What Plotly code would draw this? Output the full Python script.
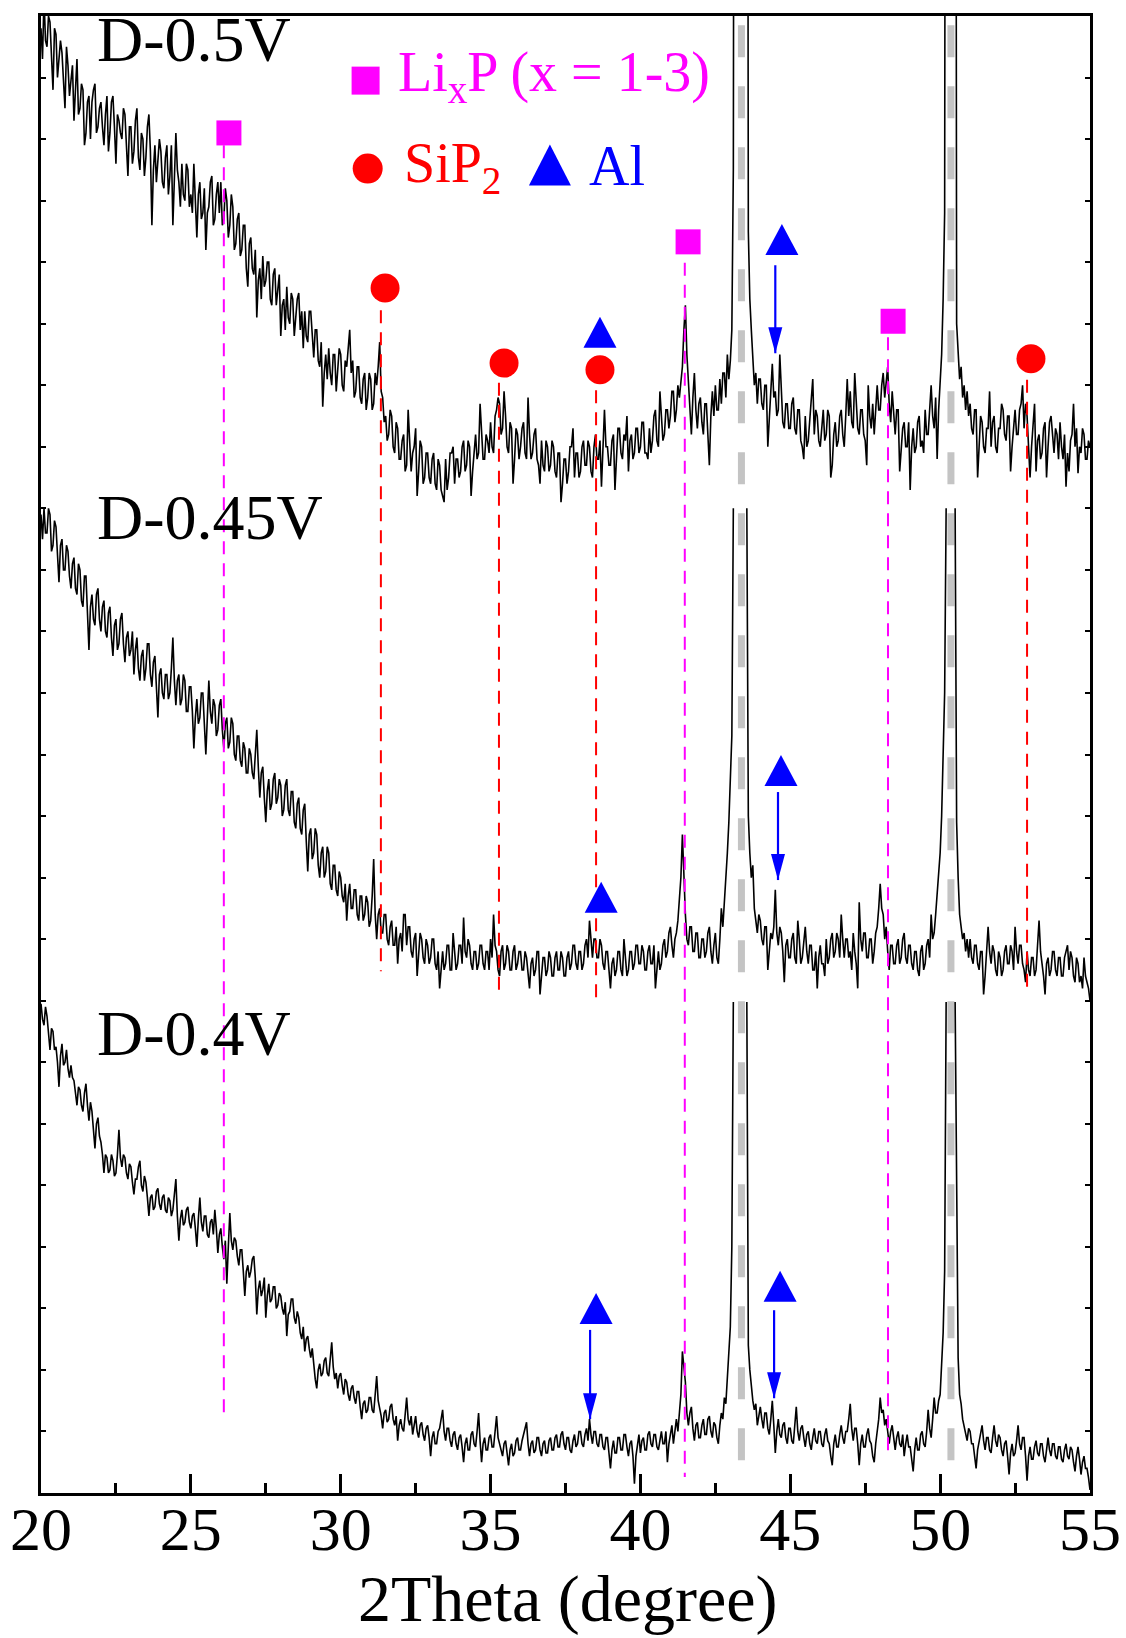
import plotly.graph_objects as go

# ---------------- data ----------------
# XRD scans, 2theta from 20.00 to 55.00 deg in 0.05 deg steps (stacked, arbitrary units)
scan_start = 20.0
scan_step = 0.05

d_05V = [
    23.8, 23.3, 24.3, 23.6, 23.5, 24.0, 23.9, 23.2, 22.8, 23.8, 23.7, 23.0, 23.3, 23.6, 23.4, 22.9, 22.5, 23.5, 23.2, 22.7,
    22.9, 23.2, 22.3, 22.7, 23.3, 22.4, 22.5, 22.9, 22.8, 21.9, 22.1, 22.6, 22.7, 22.0, 22.6, 22.8, 22.9, 22.1, 22.2, 22.5,
    22.6, 22.2, 21.9, 22.4, 22.7, 21.8, 22.1, 22.6, 22.7, 22.2, 21.6, 22.4, 22.3, 22.1, 22.0, 22.5, 22.4, 21.9, 21.4, 22.2,
    22.2, 21.6, 21.8, 22.3, 22.5, 21.7, 21.5, 22.1, 22.0, 21.4, 21.7, 22.2, 22.4, 21.8, 20.6, 21.5, 21.9, 21.3, 21.6, 22.0,
    21.8, 21.3, 21.2, 21.7, 21.9, 21.1, 21.4, 21.9, 20.6, 21.2, 22.1, 21.5, 21.3, 20.9, 21.6, 21.1, 21.0, 21.6, 21.5, 20.9,
    21.1, 20.8, 21.6, 21.0, 20.4, 21.1, 21.3, 20.7, 20.8, 21.2, 20.2, 20.8, 20.9, 21.3, 21.4, 20.6, 20.7, 21.1, 21.3, 20.8,
    21.3, 20.6, 20.7, 21.2, 21.0, 20.4, 20.6, 21.1, 20.9, 20.2, 20.3, 20.7, 20.8, 20.1, 20.2, 20.6, 20.6, 19.9, 19.6, 20.3,
    20.4, 19.9, 19.8, 20.2, 19.1, 19.7, 19.9, 19.4, 20.1, 19.6, 19.7, 20.0, 20.0, 19.4, 19.3, 19.8, 19.9, 19.3, 19.5, 19.8,
    18.8, 19.3, 19.4, 18.9, 19.6, 19.1, 19.0, 19.5, 19.4, 18.8, 19.1, 19.4, 19.5, 18.9, 19.2, 18.6, 19.2, 18.8, 18.7, 19.2,
    19.2, 18.7, 18.45, 18.9, 18.9, 18.4, 18.3, 18.7, 17.65, 18.2, 18.5, 18.1, 18.6, 18.2, 18.0, 18.5, 18.5, 17.9, 18.2, 18.6,
    18.5, 18.0, 17.9, 18.4, 18.3, 18.6, 18.9, 18.2, 18.4, 17.8, 17.9, 18.3, 18.3, 17.8, 17.7, 18.1, 18.2, 17.6, 17.8, 18.2,
    18.1, 17.6, 17.7, 18.2, 18.0, 18.3, 18.7, 17.9, 17.8, 17.4, 17.5, 17.1, 17.2, 17.6, 17.5, 17.0, 16.9, 17.4, 17.3, 16.8,
    16.8, 17.1, 17.2, 16.6, 16.7, 17.6, 17.1, 16.6, 16.9, 17.0, 17.3, 16.2, 16.6, 17.1, 17.0, 16.4, 16.5, 16.9, 16.9, 16.5,
    16.4, 16.8, 16.9, 16.4, 16.3, 16.8, 16.7, 16.3, 16.2, 16.1, 16.8, 16.3, 16.5, 16.9, 16.9, 17.0, 16.4, 16.8, 16.8, 16.5,
    16.6, 17.0, 17.1, 16.6, 16.7, 17.1, 17.0, 16.2, 16.6, 17.0, 17.2, 16.8, 16.9, 17.7, 17.3, 16.8, 16.8, 17.2, 17.1, 16.9,
    17.4, 17.0, 16.9, 17.5, 17.6, 17.8, 17.7, 17.2, 17.3, 17.9, 17.5, 17.0, 16.9, 17.4, 17.3, 16.4, 16.8, 17.3, 17.2, 16.8,
    17.0, 17.3, 17.4, 16.9, 16.8, 17.8, 17.2, 16.8, 16.9, 17.2, 17.3, 16.8, 16.7, 16.4, 17.1, 16.7, 16.6, 17.1, 17.0, 16.6,
    16.7, 17.1, 17.0, 16.6, 16.5, 16.9, 16.9, 16.1, 16.4, 16.8, 16.8, 16.4, 16.6, 17.0, 17.0, 17.3, 16.5, 16.9, 16.9, 16.5,
    16.6, 17.0, 17.1, 16.7, 16.7, 17.1, 17.0, 16.6, 16.5, 17.0, 17.2, 16.8, 16.8, 17.1, 16.35, 16.9, 17.6, 17.0, 17.0, 16.7,
    16.7, 17.1, 17.2, 16.3, 16.9, 17.3, 17.3, 16.9, 16.8, 17.2, 17.1, 17.5, 16.6, 17.1, 17.2, 16.8, 16.9, 17.3, 17.3, 16.9,
    17.0, 17.4, 17.4, 16.9, 16.9, 16.8, 17.3, 16.9, 17.1, 17.5, 17.6, 17.1, 17.0, 17.9, 17.5, 17.1, 17.2, 17.6, 17.6, 17.3,
    17.5, 17.9, 17.9, 17.4, 17.6, 18.0, 17.8, 18.1, 18.3, 18.9, 19.3, 18.5, 18.0, 17.6, 17.2, 17.8, 18.2, 17.6, 17.3, 17.7,
    17.8, 17.4, 17.2, 17.7, 17.7, 17.2, 16.7, 17.5, 17.9, 17.5, 18.0, 17.6, 17.6, 18.1, 17.7, 18.2, 18.2, 17.8, 18.5, 18.1,
    18.4, 18.9, 21.5, 40.0, 40.0, 40.0, 40.0, 40.0, 40.0, 40.0, 40.0, 40.0, 20.5, 19.4, 18.9, 18.3, 18.0, 18.2, 17.7, 18.1,
    18.1, 17.7, 17.6, 18.0, 18.0, 17.0, 17.5, 17.9, 18.35, 17.8, 17.9, 17.5, 17.6, 18.5, 17.9, 17.4, 17.3, 17.7, 17.7, 17.3,
    17.3, 17.7, 17.8, 17.3, 17.2, 17.6, 17.6, 17.1, 17.0, 16.8, 17.5, 17.0, 17.1, 17.5, 17.7, 18.1, 17.2, 17.6, 17.5, 17.1,
    17.0, 17.4, 17.6, 17.1, 17.2, 17.6, 17.5, 16.5, 16.7, 17.2, 17.4, 17.0, 17.1, 17.5, 17.6, 17.2, 17.0, 17.5, 18.1, 17.5,
    17.9, 17.4, 17.3, 18.2, 17.8, 17.3, 17.2, 17.6, 17.6, 17.2, 17.1, 16.7, 18.0, 17.5, 17.3, 17.7, 17.2, 17.6, 18.0, 17.6,
    17.6, 18.0, 18.2, 17.8, 18.0, 18.3, 17.7, 17.4, 17.9, 17.5, 17.2, 17.6, 17.6, 16.6, 16.9, 17.3, 17.4, 17.0, 17.0, 17.4,
    16.3, 17.0, 17.3, 16.9, 17.0, 17.4, 17.5, 17.0, 17.1, 16.9, 17.6, 17.2, 17.2, 17.7, 18.0, 17.5, 17.3, 17.8, 16.8, 17.6,
    18.0, 18.5, 19.4, 20.8, 40.0, 40.0, 40.0, 40.0, 40.0, 40.0, 40.0, 19.0, 18.6, 18.1, 18.3, 17.8, 18.0, 17.6, 17.9, 17.5,
    17.7, 17.3, 17.2, 17.6, 17.6, 16.5, 17.0, 17.5, 17.4, 17.0, 16.9, 17.3, 17.3, 17.9, 17.0, 17.4, 17.5, 17.0, 16.9, 17.3,
    17.3, 17.7, 17.6, 17.2, 17.1, 17.5, 17.5, 16.6, 17.0, 17.4, 17.6, 17.2, 17.2, 17.6, 17.7, 18.0, 17.3, 17.7, 17.5, 17.0,
    16.5, 17.0, 17.3, 17.7, 16.6, 17.1, 17.2, 16.8, 16.9, 17.3, 17.4, 16.5, 17.0, 17.4, 17.5, 17.1, 16.9, 17.3, 17.2, 16.8,
    17.4, 17.0, 16.8, 17.2, 16.35, 16.9, 16.6, 17.1, 17.2, 17.7, 17.0, 17.3, 16.57, 17.0, 16.9, 17.3, 17.2, 16.8, 16.8, 17.1,
    17.0,
]

d_045V = [
    15.9, 15.5, 16.0, 15.6, 15.6, 16.0, 15.9, 15.3, 15.4, 15.8, 15.7, 15.2, 14.8, 15.4, 15.5, 15.0, 15.0, 15.4, 15.3, 14.9,
    14.7, 15.1, 15.2, 14.7, 14.6, 15.1, 15.0, 14.5, 14.4, 14.9, 14.9, 14.3, 13.7, 14.4, 14.6, 14.2, 14.1, 14.6, 14.7, 14.2,
    14.0, 14.4, 14.5, 14.0, 13.9, 14.3, 14.4, 13.9, 13.6, 14.1, 14.2, 13.7, 13.8, 14.2, 14.3, 13.8, 13.5, 13.9, 14.0, 13.6,
    13.7, 14.0, 13.3, 13.7, 13.9, 13.4, 13.2, 13.6, 13.7, 13.2, 13.4, 13.8, 13.8, 13.3, 13.1, 13.5, 13.6, 13.1, 12.6, 13.3,
    13.4, 13.0, 12.9, 13.3, 13.3, 12.9, 13.0, 13.4, 13.9, 13.2, 12.8, 13.2, 13.3, 12.8, 12.9, 13.3, 13.2, 12.7, 12.7, 13.1,
    13.1, 12.7, 12.1, 12.6, 12.9, 12.5, 12.6, 13.0, 13.0, 12.5, 12.0, 12.6, 13.2, 12.7, 12.5, 12.9, 12.8, 12.3, 12.4, 12.8,
    12.9, 12.4, 12.1, 12.5, 12.6, 12.1, 12.2, 12.6, 12.5, 12.0, 11.9, 12.3, 12.3, 11.9, 11.8, 12.2, 12.1, 11.7, 11.7, 12.1,
    12.0, 11.7, 11.6, 12.0, 12.4, 11.8, 11.3, 11.7, 11.8, 11.3, 10.9, 11.4, 11.6, 11.1, 11.2, 11.6, 11.7, 11.2, 11.3, 11.6,
    11.5, 11.0, 11.1, 11.5, 11.6, 11.1, 11.0, 11.4, 11.4, 10.9, 10.8, 11.2, 11.3, 10.8, 10.7, 11.1, 11.2, 10.6, 10.1, 10.7,
    10.8, 10.3, 10.4, 10.8, 10.7, 10.2, 10.0, 10.4, 10.5, 10.0, 10.1, 10.5, 10.4, 9.9, 9.8, 10.2, 10.2, 9.8, 9.7, 10.1,
    10.0, 9.7, 9.6, 9.9, 9.3, 9.7, 9.9, 9.5, 9.5, 9.8, 9.8, 9.4, 9.3, 9.7, 9.7, 9.3, 9.4, 9.7, 9.6, 9.2,
    9.3, 9.7, 10.3, 9.4, 9.0, 9.4, 9.5, 9.1, 9.1, 9.4, 9.4, 9.0, 8.9, 9.2, 9.3, 8.9, 8.9, 9.2, 8.6, 9.0,
    9.1, 8.8, 9.4, 9.4, 8.9, 9.2, 9.2, 8.8, 8.7, 9.0, 9.1, 8.4, 8.8, 9.1, 9.0, 8.7, 8.6, 9.0, 8.9, 8.6,
    8.7, 9.0, 9.0, 8.6, 8.5, 8.8, 8.2, 8.6, 8.8, 8.5, 8.6, 8.9, 8.9, 8.5, 8.5, 9.1, 8.8, 8.5, 8.6, 8.9,
    8.9, 8.6, 9.35, 8.8, 8.7, 9.0, 8.9, 8.6, 8.5, 8.8, 8.8, 8.5, 8.6, 8.9, 8.9, 8.6, 8.5, 8.8, 8.8, 8.5,
    9.0, 8.7, 9.4, 8.9, 8.8, 8.5, 8.4, 8.8, 8.9, 8.5, 8.6, 8.9, 8.8, 8.5, 8.5, 8.8, 8.9, 8.5, 8.6, 8.8,
    8.8, 8.5, 8.5, 8.8, 8.7, 8.4, 8.2, 8.6, 8.7, 8.4, 8.5, 8.8, 8.8, 8.1, 8.4, 8.7, 8.7, 8.4, 8.5, 8.8,
    8.7, 8.4, 8.4, 8.7, 8.8, 8.5, 8.5, 8.8, 8.7, 8.4, 8.4, 8.7, 8.8, 8.5, 8.6, 8.9, 8.9, 8.6, 8.5, 8.8,
    8.8, 8.5, 8.6, 8.9, 9.0, 8.7, 9.3, 8.9, 8.7, 9.0, 9.0, 8.7, 8.7, 9.0, 8.9, 8.6, 8.5, 8.8, 8.8, 8.5,
    8.2, 8.6, 8.7, 8.4, 8.5, 8.8, 8.8, 8.5, 8.4, 9.0, 8.7, 8.4, 8.5, 8.8, 8.8, 8.5, 8.6, 8.9, 8.9, 8.6,
    8.6, 8.9, 8.8, 8.5, 8.5, 8.8, 8.9, 8.6, 8.6, 8.9, 8.2, 8.6, 8.8, 8.5, 8.6, 8.9, 9.0, 8.7, 8.8, 9.1,
    9.2, 8.9, 8.7, 9.0, 9.1, 9.3, 9.6, 10.0, 10.7, 9.9, 9.4, 9.0, 8.9, 9.2, 9.2, 8.8, 8.8, 9.1, 9.1, 8.7,
    8.7, 9.0, 9.0, 8.7, 8.8, 9.1, 9.2, 8.8, 8.6, 8.9, 9.1, 8.7, 8.6, 9.0, 9.5, 9.2, 9.6, 9.9, 10.4, 10.9,
    11.5, 12.3, 16.0, None, None, None, None, None, None, None, None, 16.0, 11.0, 10.4, 10.0, 10.2, 9.5, 9.3, 9.1, 9.4,
    9.3, 9.0, 8.9, 9.2, 9.2, 8.5, 8.8, 9.1, 9.0, 9.2, 9.8, 9.1, 8.9, 9.2, 9.1, 8.8, 8.3, 8.9, 9.0, 8.7,
    8.7, 9.0, 9.1, 8.7, 8.6, 9.3, 9.0, 8.6, 8.7, 9.0, 9.2, 8.8, 8.6, 8.9, 8.9, 8.5, 8.5, 8.8, 8.2, 8.7,
    8.9, 8.6, 8.6, 8.4, 9.0, 8.6, 8.7, 9.0, 9.1, 8.7, 8.8, 9.1, 9.0, 8.7, 9.4, 9.0, 8.7, 9.0, 9.0, 8.7,
    8.8, 8.5, 9.1, 8.8, 8.6, 8.2, 9.6, 9.0, 8.8, 9.1, 9.1, 8.7, 8.7, 9.0, 9.0, 8.6, 8.8, 9.1, 9.2, 9.5,
    9.9, 9.5, 9.4, 9.0, 9.2, 8.8, 8.5, 8.9, 8.9, 8.6, 8.6, 8.9, 9.0, 8.6, 8.7, 9.0, 9.1, 8.7, 8.6, 8.9,
    8.9, 8.6, 8.5, 8.8, 8.8, 8.5, 8.4, 8.8, 8.9, 8.5, 8.6, 8.9, 9.0, 8.7, 9.4, 9.0, 9.1, 9.4, 9.7, 10.0,
    10.4, 11.0, 11.8, 13.0, 16.0, None, None, None, None, None, 16.0, 10.9, 10.0, 9.4, 9.2, 9.0, 9.1, 8.8, 9.0, 8.7,
    9.0, 8.7, 8.6, 8.9, 8.9, 8.6, 8.5, 8.8, 8.8, 8.1, 8.4, 8.8, 9.2, 8.8, 8.6, 8.9, 8.8, 8.5, 8.4, 8.8,
    8.7, 8.4, 8.5, 8.8, 8.9, 8.6, 8.6, 8.9, 8.8, 8.5, 9.2, 8.8, 8.6, 8.9, 8.9, 8.6, 8.5, 8.3, 8.8, 8.5,
    8.4, 8.7, 8.7, 8.4, 8.5, 8.9, 9.3, 8.8, 8.6, 8.4, 8.1, 8.6, 8.7, 8.4, 8.5, 8.8, 8.8, 8.5, 8.4, 8.7,
    8.7, 8.4, 8.4, 8.7, 8.8, 8.9, 8.5, 8.8, 8.7, 8.4, 8.3, 8.7, 8.6, 8.3, 8.4, 8.2, 8.7, 8.4, 8.3, 8.2,
    8.0,
]

d_04V = [
    7.95, 7.7, 7.6, 7.9, 7.75, 7.4, 7.2, 7.55, 7.5, 7.2, 7.25, 7.0, 6.6, 7.1, 7.3, 6.95, 7.0, 7.2, 6.9, 6.75,
    6.95, 6.75, 6.7, 6.5, 6.3, 6.6, 6.55, 6.3, 6.2, 6.5, 6.65, 6.3, 6.05, 6.35, 6.2, 5.9, 5.6, 6.0, 6.1, 5.8,
    5.7, 5.5, 5.2, 5.5, 5.45, 5.2, 5.25, 5.5, 5.4, 5.15, 5.2, 5.5, 5.9, 5.45, 5.3, 5.5, 5.45, 5.2, 5.1, 5.35,
    5.3, 5.05, 4.85, 5.1, 5.1, 5.3, 5.4, 5.0, 4.9, 5.15, 5.05, 4.8, 4.5, 4.8, 4.85, 4.6, 4.65, 4.9, 4.95, 4.7,
    4.6, 4.8, 4.85, 4.6, 4.55, 4.8, 4.75, 4.5, 4.6, 4.85, 5.1, 4.5, 4.1, 4.45, 4.6, 4.35, 4.4, 4.6, 4.65, 4.4,
    4.3, 4.5, 4.55, 4.3, 4.0, 4.45, 4.8, 4.4, 4.25, 4.5, 4.5, 4.2, 4.15, 4.4, 4.45, 4.2, 4.6, 4.3, 3.9, 4.2,
    4.3, 4.0, 3.8, 4.1, 3.4, 4.0, 4.55, 4.1, 3.95, 4.15, 4.1, 3.85, 3.7, 3.95, 3.95, 3.6, 3.2, 3.6, 3.7, 3.5,
    3.6, 3.8, 3.85, 3.5, 2.9, 3.3, 3.45, 3.2, 3.3, 3.5, 2.85, 3.2, 3.4, 3.1, 3.15, 3.35, 3.35, 3.0, 3.05, 3.25,
    3.2, 3.0, 2.9, 3.1, 2.55, 2.9, 2.95, 3.15, 3.15, 2.85, 2.75, 2.95, 2.85, 2.6, 2.5, 2.7, 2.3, 2.5, 2.55, 2.35,
    2.2, 2.35, 2.05, 1.85, 1.7, 2.0, 2.1, 1.9, 1.95, 2.15, 2.2, 1.95, 1.9, 2.2, 2.45, 2.05, 1.85, 1.95, 1.7, 1.9,
    1.95, 1.75, 1.6, 1.85, 1.8, 1.6, 1.5, 1.7, 1.75, 1.55, 1.45, 1.65, 1.65, 1.4, 1.2, 1.45, 1.5, 1.3, 1.35, 1.55,
    1.55, 1.35, 1.3, 1.6, 1.9, 1.5, 1.4, 1.25, 1.05, 1.3, 1.35, 1.15, 1.2, 1.4, 1.45, 1.2, 1.1, 1.25, 0.85, 1.1,
    1.2, 1.05, 1.0, 1.25, 1.55, 1.2, 1.1, 1.25, 0.95, 1.1, 1.25, 1.0, 0.9, 1.1, 1.15, 0.95, 0.85, 1.05, 1.1, 0.9,
    0.6, 0.9, 1.0, 0.8, 0.8, 1.0, 1.05, 1.2, 1.35, 1.0, 0.85, 1.05, 1.05, 0.85, 0.75, 0.95, 1.0, 0.8, 0.7, 0.9,
    0.95, 0.75, 0.5, 0.8, 0.9, 0.7, 0.7, 0.95, 1.0, 0.8, 0.75, 1.0, 1.3, 0.85, 0.5, 0.8, 0.9, 0.7, 0.7, 0.9,
    0.95, 0.75, 0.75, 1.0, 1.25, 0.9, 0.8, 0.65, 0.6, 0.8, 0.85, 0.65, 0.45, 0.7, 0.8, 0.6, 0.65, 0.85, 0.9, 0.7,
    0.7, 0.85, 0.95, 1.05, 1.15, 0.8, 0.6, 0.8, 0.85, 0.65, 0.7, 0.9, 0.9, 0.7, 0.6, 0.8, 0.85, 0.65, 0.65, 0.85,
    0.9, 0.7, 0.7, 0.9, 0.95, 0.75, 0.75, 0.95, 1.0, 0.8, 0.7, 0.9, 0.9, 0.7, 0.65, 0.85, 0.95, 0.75, 0.8, 1.0,
    1.0, 0.8, 0.75, 0.95, 1.05, 0.85, 1.2, 0.95, 0.8, 1.0, 1.0, 0.8, 0.75, 0.95, 0.95, 0.75, 0.7, 0.9, 0.9, 0.65,
    0.4, 0.7, 0.85, 0.65, 0.65, 0.9, 0.9, 0.7, 0.7, 0.95, 0.95, 0.75, 0.6, 0.8, 0.85, 0.6, 0.15, 0.6, 0.8, 0.95,
    0.65, 0.85, 0.9, 0.7, 0.7, 0.95, 1.0, 0.8, 0.75, 0.95, 0.95, 0.75, 0.7, 0.9, 1.0, 0.8, 0.8, 1.0, 0.5, 0.8,
    0.95, 1.1, 0.8, 1.0, 1.2, 1.0, 1.25, 1.6, 2.3, 2.0, 1.8, 1.3, 1.1, 1.3, 1.4, 1.05, 0.85, 1.1, 1.15, 0.9,
    0.9, 1.1, 1.2, 0.95, 0.95, 1.2, 1.25, 1.0, 0.9, 1.15, 1.1, 0.9, 0.8, 1.1, 1.3, 1.2, 1.55, 1.45, 1.95, 2.2,
    2.7, 4.0, 7.98, None, None, None, None, None, None, None, None, 7.98, 2.4, 2.0, 1.7, 1.5, 1.35, 1.45, 1.1, 1.3,
    1.4, 1.2, 1.05, 1.3, 1.3, 1.05, 0.95, 1.2, 1.5, 1.1, 0.65, 1.0, 1.2, 0.95, 0.9, 1.1, 1.15, 0.9, 0.8, 1.05,
    1.05, 0.85, 0.8, 1.1, 1.4, 1.0, 0.85, 1.05, 1.1, 0.9, 0.75, 0.95, 1.0, 0.8, 0.7, 0.9, 1.05, 0.85, 0.8, 1.0,
    1.0, 0.8, 0.75, 0.95, 1.05, 0.85, 0.8, 0.6, 0.45, 0.8, 0.95, 0.75, 0.75, 0.95, 1.1, 0.9, 0.8, 1.0, 1.0, 1.2,
    1.45, 1.05, 0.85, 1.05, 1.05, 0.8, 0.45, 0.8, 0.95, 0.75, 0.75, 0.95, 1.05, 0.85, 0.8, 0.6, 0.5, 0.8, 1.0, 1.2,
    1.55, 1.3, 1.35, 1.1, 1.2, 0.95, 0.8, 1.0, 1.1, 0.9, 0.7, 0.9, 1.0, 0.8, 0.75, 0.95, 0.6, 0.8, 0.95, 0.75,
    0.75, 0.55, 0.35, 0.7, 0.9, 0.7, 0.7, 0.95, 1.0, 0.8, 0.75, 1.0, 1.35, 1.05, 0.9, 1.2, 1.55, 1.3, 1.3, 1.5,
    1.6, 2.1, 2.6, 3.6, 7.98, None, None, None, None, None, 7.98, 4.2, 2.2, 1.6, 1.45, 1.2, 1.1, 0.95, 0.85, 1.05,
    1.0, 0.8, 0.8, 0.6, 0.4, 0.7, 0.85, 1.0, 1.1, 0.85, 0.7, 0.9, 0.9, 0.7, 0.65, 0.9, 1.1, 0.85, 0.75, 0.95,
    0.9, 0.7, 0.6, 0.8, 0.85, 0.6, 0.3, 0.65, 0.8, 0.6, 0.65, 0.85, 1.1, 0.8, 0.7, 0.9, 0.9, 0.6, 0.2, 0.6,
    0.75, 0.55, 0.55, 0.75, 0.85, 0.65, 0.6, 0.8, 0.8, 0.6, 0.5, 0.7, 0.9, 0.7, 0.6, 0.8, 0.8, 0.6, 0.55, 0.75,
    0.75, 0.55, 0.5, 0.7, 0.8, 0.6, 0.55, 0.75, 0.7, 0.5, 0.35, 0.6, 0.75, 0.55, 0.3, 0.5, 0.6, 0.4, 0.4, 0.25,
    0.05,
]

sample_names = ["D-0.5V", "D-0.45V", "D-0.4V"]
sample_label_x = [21.8, 21.8, 21.8]
sample_label_y = [23.62, 15.85, 7.47]

# phase markers
lixp_x = [26.27, 41.59, 48.43]
lixp_y = [22.10, 20.33, 19.04]
lixp_line_x = [26.10, 41.48, 48.26]
lixp_line_top = [21.90, 19.99, 18.78]
lixp_line_bottom = [1.30, 0.26, 0.62]

sip2_x = [31.48, 35.45, 38.65, 53.03]
sip2_y = [19.58, 18.36, 18.25, 18.43]
sip2_line_x = [31.34, 35.28, 38.52, 52.90]
sip2_line_top = [19.22, 18.04, 17.92, 18.09]
sip2_line_bottom = [8.48, 8.06, 7.96, 8.14]

al_x = [38.65, 44.72, 38.69, 44.69, 38.52, 44.66]
al_y = [18.86, 20.37, 9.68, 11.74, 3.00, 3.36]
al_arrow_x = [44.50, 44.59, 38.32, 44.46]
al_arrow_top = [19.95, 11.39, 2.65, 2.97]
al_arrow_tip = [18.52, 9.96, 1.20, 1.54]

substrate_x = [43.37, 50.36]
substrate_top = 23.85
substrate_bottom = 0.41

legend_text = ["Li<sub>x</sub>P (x = 1-3)", "SiP<sub>2</sub>", "Al"]
legend_text_x = [31.83, 32.05, 38.22]
legend_text_y = [23.02, 21.55, 21.56]
legend_marker_x = [30.83, 30.90, 36.98]
legend_marker_y = [22.95, 21.52, 21.58]

x_ticks = [20, 25, 30, 35, 40, 45, 50, 55]
x_title = "2Theta (degree)"

# ---------------- styling ----------------
FONT = "Liberation Serif, Times New Roman, serif"
MAGENTA = "#ff00ff"
RED = "#ff0000"
BLUE = "#0000ff"

fig = go.Figure()

shapes = []
for sx in substrate_x:
    shapes.append(dict(type="line", xref="x", yref="y", x0=sx, x1=sx,
                       y0=substrate_top, y1=substrate_bottom, layer="below",
                       line=dict(color="#c4c4c4", width=7, dash="32px,29px")))

for name, ys in zip(sample_names, [d_05V, d_045V, d_04V]):
    fig.add_trace(go.Scatter(x0=scan_start, dx=scan_step, y=ys, mode="lines",
                             name=name, line=dict(color="black", width=1.6),
                             connectgaps=False, showlegend=False,
                             hoverinfo="skip"))

for lx, t, b in zip(lixp_line_x, lixp_line_top, lixp_line_bottom):
    shapes.append(dict(type="line", xref="x", yref="y", x0=lx, x1=lx, y0=t, y1=b,
                       line=dict(color=MAGENTA, width=2, dash="13px,9px")))
for lx, t, b in zip(sip2_line_x, sip2_line_top, sip2_line_bottom):
    shapes.append(dict(type="line", xref="x", yref="y", x0=lx, x1=lx, y0=t, y1=b,
                       line=dict(color=RED, width=2, dash="13px,9px")))

for tx, ty in zip(al_x, al_y):
    shapes.append(dict(type="path", xref="x", yref="y", xsizemode="pixel",
                       ysizemode="pixel", xanchor=tx, yanchor=ty,
                       path="M -16.5,-15.5 L 16.5,-15.5 L 0,15.5 Z",
                       fillcolor=BLUE, line=dict(width=0)))
for axx, at, ap in zip(al_arrow_x, al_arrow_top, al_arrow_tip):
    shapes.append(dict(type="line", xref="x", yref="y", x0=axx, x1=axx,
                       y0=at, y1=ap, line=dict(color=BLUE, width=2.2)))
    shapes.append(dict(type="path", xref="x", yref="y", xsizemode="pixel",
                       ysizemode="pixel", xanchor=axx, yanchor=ap,
                       path="M -7,26 L 7,26 L 0,0 Z",
                       fillcolor=BLUE, line=dict(width=0)))
shapes.append(dict(type="path", xref="x", yref="y", xsizemode="pixel",
                   ysizemode="pixel", xanchor=legend_marker_x[2],
                   yanchor=legend_marker_y[2],
                   path="M -21,-20.5 L 21,-20.5 L 0,20.5 Z",
                   fillcolor=BLUE, line=dict(width=0)))

fig.add_trace(go.Scatter(x=lixp_x, y=lixp_y, mode="markers", showlegend=False,
                         marker=dict(symbol="square", size=25, color=MAGENTA),
                         hoverinfo="skip"))
fig.add_trace(go.Scatter(x=sip2_x, y=sip2_y, mode="markers", showlegend=False,
                         marker=dict(symbol="circle", size=29, color=RED),
                         hoverinfo="skip"))
fig.add_trace(go.Scatter(x=legend_marker_x[:1], y=legend_marker_y[:1], mode="markers",
                         showlegend=False,
                         marker=dict(symbol="square", size=28, color=MAGENTA),
                         hoverinfo="skip"))
fig.add_trace(go.Scatter(x=legend_marker_x[1:2], y=legend_marker_y[1:2], mode="markers",
                         showlegend=False,
                         marker=dict(symbol="circle", size=30, color=RED),
                         hoverinfo="skip"))

annotations = []
for txt, tx, ty in zip(sample_names, sample_label_x, sample_label_y):
    annotations.append(dict(text=txt, x=tx, y=ty, xref="x", yref="y",
                            xanchor="left", yanchor="middle", showarrow=False,
                            font=dict(family=FONT, size=64, color="black")))
for txt, tx, ty, col in zip(legend_text, legend_text_x, legend_text_y,
                            [MAGENTA, RED, BLUE]):
    annotations.append(dict(text=txt, x=tx, y=ty, xref="x", yref="y",
                            xanchor="left", yanchor="middle", showarrow=False,
                            font=dict(family=FONT, size=56, color=col)))
annotations.append(dict(text=x_title, x=0.502, y=-0.0718, xref="paper", yref="paper",
                        xanchor="center", yanchor="middle", showarrow=False,
                        font=dict(family=FONT, size=66, color="black")))

fig.update_layout(
    width=1126, height=1638,
    margin=dict(l=41, r=36, t=16, b=145),
    paper_bgcolor="white", plot_bgcolor="white",
    shapes=shapes, annotations=annotations,
    showlegend=False,
    font=dict(family=FONT, color="black"),
)
fig.update_xaxes(
    range=[20, 55], tickmode="array", tickvals=x_ticks,
    ticktext=[str(t) for t in x_ticks],
    ticks="inside", ticklen=19, tickwidth=3, tickcolor="black",
    minor=dict(dtick=2.5, tick0=20, ticks="inside", ticklen=10, tickwidth=3,
               tickcolor="black"),
    showline=True, linewidth=3, linecolor="black", mirror=True,
    showgrid=False, zeroline=False, automargin=False,
    ticklabelstandoff=-20,
    tickfont=dict(family=FONT, size=62, color="black"),
)
fig.update_yaxes(
    range=[0, 24], dtick=1, tick0=0, ticks="inside", ticklen=5, tickwidth=2,
    tickcolor="black", showticklabels=False, automargin=False,
    showline=True, linewidth=3, linecolor="black", mirror="ticks",
    showgrid=False, zeroline=False,
)

fig.write_html("out.html")
